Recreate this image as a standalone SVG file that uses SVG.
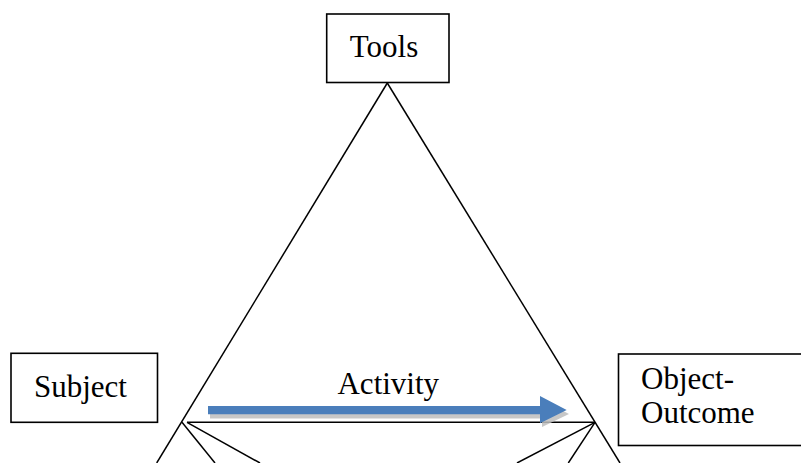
<svg xmlns="http://www.w3.org/2000/svg" width="801" height="463" viewBox="0 0 801 463">
<style>
.box{fill:#fff;stroke:#000;stroke-width:1.6}
.ln{stroke:#000;stroke-width:1.5;fill:none}
.lbl{font-family:"Liberation Serif","DejaVu Serif",serif;font-size:31px;fill:#000}
</style>
<rect width="801" height="463" fill="#fff"/>
<g id="connectors">
<line class="ln" x1="387.3" y1="83" x2="156.7" y2="463"/>
<line class="ln" x1="387.3" y1="83" x2="620" y2="463"/>
<line class="ln" x1="187" y1="422.3" x2="595" y2="422.3"/>
<line class="ln" x1="182" y1="422.3" x2="215" y2="463"/>
<line class="ln" x1="187" y1="422.3" x2="260" y2="463"/>
<line class="ln" x1="595" y1="422.3" x2="517" y2="463"/>
<line class="ln" x1="595" y1="422.3" x2="568.3" y2="463"/>
</g>
<g id="tools">
<rect class="box" x="326.7" y="14" width="122.3" height="68.5"/>
<text class="lbl" x="384" y="56.5" text-anchor="middle">Tools</text>
</g>
<g id="subject">
<rect class="box" x="11" y="353.3" width="146.5" height="69"/>
<text class="lbl" x="80.5" y="396.7" text-anchor="middle">Subject</text>
</g>
<g id="object">
<rect class="box" x="618.5" y="354" width="200" height="91.5"/>
<text class="lbl" x="641" y="388.5">Object-</text>
<text class="lbl" x="641" y="422.5">Outcome</text>
</g>
<g id="activity">
<text class="lbl" x="388.3" y="393.5" text-anchor="middle">Activity</text>
<polygon points="210,410 542,410 542,400 569,414 542,427 542,418.5 210,418.5" fill="#bdbdbd" opacity="0.85"/>
<polygon points="208,406 540,406 540,396 566.7,410 540,423.3 540,414.3 208,414.3" fill="#4a7ebb"/>
</g>
</svg>
